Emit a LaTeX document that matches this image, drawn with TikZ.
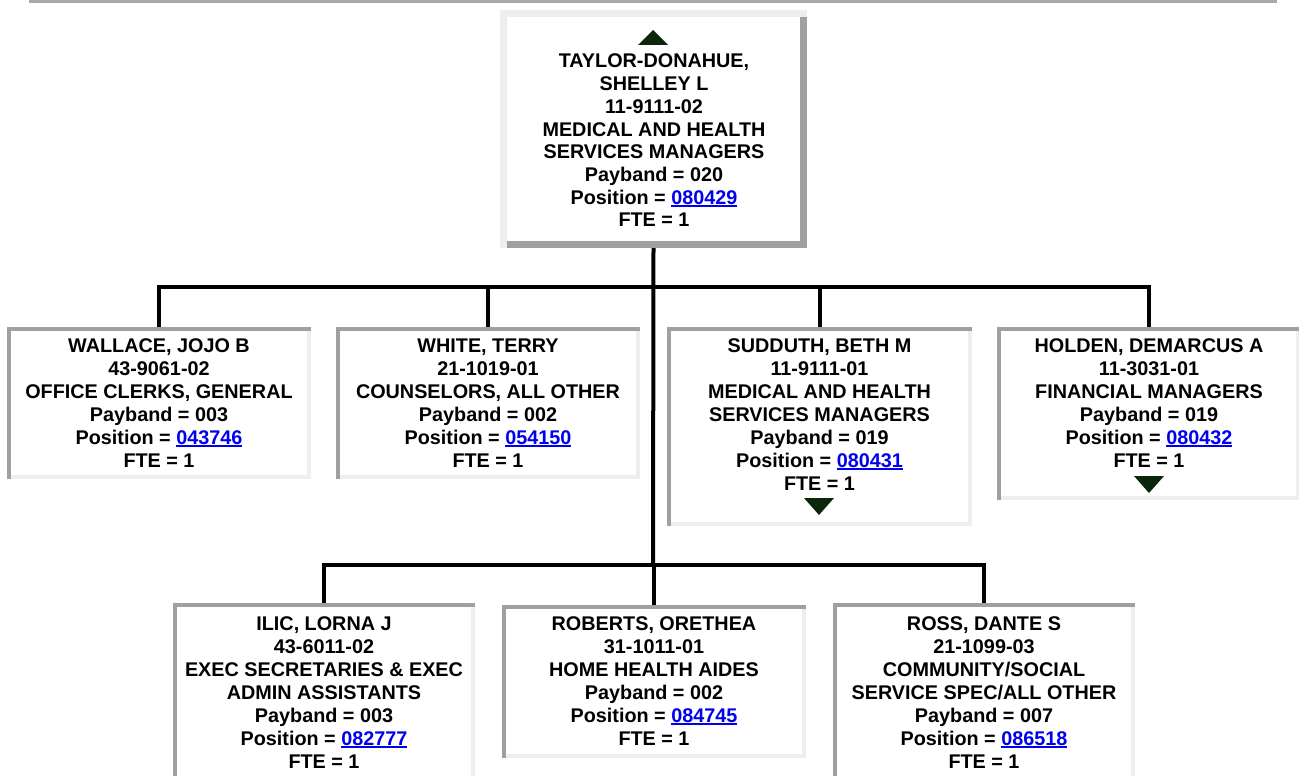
\documentclass[tikz,border=0pt]{standalone}
\usepackage{fontspec}
\setmainfont{Liberation Sans}
\definecolor{bdark}{HTML}{A0A0A0}
\definecolor{blight}{HTML}{EEEEEE}
\definecolor{topline}{HTML}{A8A8A8}
\definecolor{linkblue}{HTML}{0000EE}
\definecolor{arrowgreen}{HTML}{0C260C}
\newcommand\lnk[1]{\textcolor{linkblue}{\setbox0\hbox{#1}\rlap{\rule[-2.6pt]{\wd0}{1.8pt}}\box0}}
\newcommand\rows[1]{\begin{tabular}[t]{@{}c@{}}#1\end{tabular}}
\newcommand\lowborders[1]{%
  \fill[bdark] (#1.north west) rectangle ([yshift=-4pt]#1.north east);
  \fill[bdark] (#1.north west) rectangle ([xshift=4pt]#1.south west);
  \fill[blight] ([xshift=-4pt,yshift=-4pt]#1.north east) rectangle (#1.south east);
  \fill[blight] ([xshift=4pt,yshift=4pt]#1.south west) rectangle (#1.south east);}
\tikzset{
  boxnode/.style={draw=none, fill=white, inner sep=0pt, outer sep=0pt, anchor=north west},
  txt/.style={anchor=base, inner sep=0pt, font=\fontsize{19.8}{23}\selectfont\bfseries},
  toptxt/.style={anchor=base, inner sep=0pt, font=\fontsize{19.8}{22.7}\selectfont\bfseries},
  conn/.style={line width=4pt, draw=black, line join=miter},
  tri/.style={fill=arrowgreen}
}
\begin{document}
\begin{tikzpicture}[x=1pt,y=-1pt]
\useasboundingbox (0,0) rectangle (1299,776);
\clip (0,0) rectangle (1299,776);
% top rule
\fill[topline] (29,0) rectangle (1277,3);
% boxes
\node[boxnode, minimum width=307pt, minimum height=238pt] (top) at (500,10) {};
\node[boxnode, minimum width=304pt, minimum height=152pt] (wallace) at (7,327) {};
\node[boxnode, minimum width=304pt, minimum height=152pt] (white) at (336,327) {};
\node[boxnode, minimum width=305pt, minimum height=199pt] (sudduth) at (667,327) {};
\node[boxnode, minimum width=303pt, minimum height=173pt] (holden) at (997,327) {};
\node[boxnode, minimum width=302pt, minimum height=192pt] (ilic) at (173,603) {};
\node[boxnode, minimum width=304pt, minimum height=153pt] (roberts) at (502,605) {};
\node[boxnode, minimum width=302pt, minimum height=192pt] (ross) at (833,603) {};
% top box borders (light top/left, dark bottom/right)
\fill[blight] (top.north west) rectangle ([yshift=-7pt]top.north east);
\fill[blight] (top.north west) rectangle ([xshift=7pt]top.south west);
\fill[bdark] ([xshift=-7pt,yshift=-7pt]top.north east) rectangle (top.south east);
\fill[bdark] ([xshift=7pt,yshift=7pt]top.south west) rectangle (top.south east);
% lower box borders
\lowborders{wallace}
\lowborders{white}
\lowborders{sudduth}
\lowborders{holden}
\lowborders{ilic}
\lowborders{roberts}
\lowborders{ross}
% connectors
\coordinate (bar1) at (653,287);
\coordinate (bar2) at (653,565);
\draw[conn] (top.south) -- (bar2);
\draw[conn] (wallace.north) -- (wallace.north |- bar1) -- (holden.north |- bar1) -- (holden.north);
\draw[conn] (white.north |- bar1) -- (white.north);
\draw[conn] ([xshift=0.5pt]sudduth.north |- bar1) -- ([xshift=0.5pt]sudduth.north);
\draw[conn] (ilic.north) -- (ilic.north |- bar2) -- (ross.north |- bar2) -- (ross.north);
\draw[conn] (roberts.north |- bar2) -- (roberts.north);
% triangles
\fill[tri] (653,30) -- (668,45) -- (638,45) -- cycle;
\fill[tri] (804,498) -- (834,498) -- (819,515) -- cycle;
\fill[tri] (1134,476) -- (1164,476) -- (1149,493) -- cycle;
% texts
\node[toptxt] (top-t) at (654,68) {\rows{TAYLOR-DONAHUE,\\SHELLEY L\\11-9111-02\\MEDICAL AND HEALTH\\SERVICES MANAGERS\\Payband = 020\\Position = \lnk{080429}\\FTE = 1}};
\node[txt] (wallace-t) at (159,352) {\rows{WALLACE, JOJO B\\43-9061-02\\OFFICE CLERKS, GENERAL\\Payband = 003\\Position = \lnk{043746}\\FTE = 1}};
\node[txt] (white-t) at (488,352) {\rows{WHITE, TERRY\\21-1019-01\\COUNSELORS, ALL OTHER\\Payband = 002\\Position = \lnk{054150}\\FTE = 1}};
\node[txt] (sudduth-t) at (819.5,352) {\rows{SUDDUTH, BETH M\\11-9111-01\\MEDICAL AND HEALTH\\SERVICES MANAGERS\\Payband = 019\\Position = \lnk{080431}\\FTE = 1}};
\node[txt] (holden-t) at (1149,352) {\rows{HOLDEN, DEMARCUS A\\11-3031-01\\FINANCIAL MANAGERS\\Payband = 019\\Position = \lnk{080432}\\FTE = 1}};
\node[txt] (ilic-t) at (324,630) {\rows{ILIC, LORNA J\\43-6011-02\\EXEC SECRETARIES \& EXEC\\ADMIN ASSISTANTS\\Payband = 003\\Position = \lnk{082777}\\FTE = 1}};
\node[txt] (roberts-t) at (654,630) {\rows{ROBERTS, ORETHEA\\31-1011-01\\HOME HEALTH AIDES\\Payband = 002\\Position = \lnk{084745}\\FTE = 1}};
\node[txt] (ross-t) at (984,630) {\rows{ROSS, DANTE S\\21-1099-03\\COMMUNITY/SOCIAL\\SERVICE SPEC/ALL OTHER\\Payband = 007\\Position = \lnk{086518}\\FTE = 1}};
\end{tikzpicture}
\end{document}
